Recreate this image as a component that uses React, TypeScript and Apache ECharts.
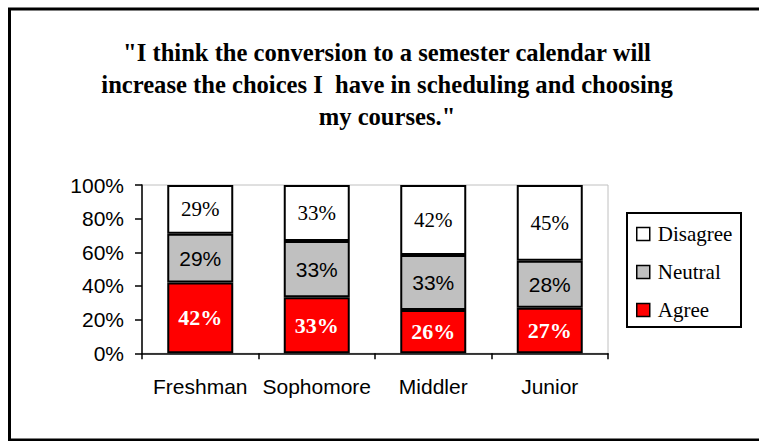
import React, { useEffect, useRef } from "react";
import * as echarts from "echarts";

const categories = ["Freshman", "Sophomore", "Middler", "Junior"];
const agree = [42, 33, 26, 27];
const neutral = [29, 33, 33, 28];
const disagree = [29, 33, 42, 45];
const titleText =
  '"I think the conversion to a semester calendar will\nincrease the choices I  have in scheduling and choosing\nmy courses."';

const SERIF = "'Liberation Serif', 'Times New Roman', serif";
const SANS = "'Liberation Sans', Arial, sans-serif";

export default function App() {
  const ref = useRef<HTMLDivElement>(null);
  useEffect(() => {
    if (!ref.current) return;
    const chart = echarts.init(ref.current, undefined, { renderer: "svg" });
    const totals = categories.map((_, i) => agree[i] + neutral[i] + disagree[i]);
    const frac = (arr: number[]) => arr.map((v, i) => v / totals[i]);
    const border = { borderColor: "#000", borderWidth: 2 };
    chart.setOption({
      animation: false,
      backgroundColor: "#fff",
      title: {
        text: titleText,
        left: 387,
        top: 37,
        padding: 0,
        textAlign: "center",
        textStyle: {
          fontFamily: SERIF,
          fontSize: 24.6,
          fontWeight: "bold",
          color: "#000",
          lineHeight: 31.7,
        },
      },
      graphic: [
        {
          type: "rect",
          shape: { x: 9.5, y: 9, width: 800, height: 431 },
          style: { fill: "none", stroke: "#000", lineWidth: 3 },
          silent: true,
        },
        {
          type: "rect",
          shape: { x: 627, y: 213, width: 114, height: 114 },
          style: { fill: "none", stroke: "#000", lineWidth: 2 },
          silent: true,
        },
      ],
      legend: {
        orient: "vertical",
        left: 636,
        top: 223.5,
        padding: 0,
        itemGap: 17,
        itemWidth: 13,
        itemHeight: 13,
        icon: "rect",
        data: ["Disagree", "Neutral", "Agree"],
        itemStyle: { borderColor: "#000", borderWidth: 1.5 },
        textStyle: {
          fontFamily: SERIF,
          fontSize: 21,
          lineHeight: 21,
          color: "#000",
          padding: [0, 0, 0, 3],
        },
      },
      grid: {
        left: 142,
        top: 185,
        right: 151,
        bottom: 87.7,
        show: true,
        borderColor: "#c0c0c0",
        borderWidth: 1,
        backgroundColor: "transparent",
      },
      xAxis: {
        type: "category",
        data: categories,
        axisLine: { show: true, lineStyle: { color: "#000", width: 1.5 } },
        axisTick: { show: true, length: 6, lineStyle: { color: "#000", width: 1.5 } },
        axisLabel: { interval: 0, fontFamily: SANS, fontSize: 21, color: "#000", margin: 23 },
        splitLine: { show: false },
      },
      yAxis: {
        type: "value",
        min: 0,
        max: 1,
        interval: 0.2,
        axisLine: { show: true, lineStyle: { color: "#000", width: 1.5 } },
        axisTick: { show: true, length: 7, lineStyle: { color: "#000", width: 1.5 } },
        axisLabel: {
          fontFamily: SANS,
          fontSize: 21,
          color: "#000",
          margin: 18,
          formatter: (v: number) => `${Math.round(v * 100)}%`,
        },
        splitLine: { show: false },
      },
      series: [
        {
          name: "Agree",
          type: "bar",
          stack: "all",
          barWidth: 66,
          data: frac(agree),
          itemStyle: { color: "#ff0000", ...border },
          label: {
            show: true,
            position: "inside",
            formatter: (p: any) => `${agree[p.dataIndex]}%`,
            fontFamily: SERIF,
            fontSize: 22,
            fontWeight: "bold",
            color: "#fff",
          },
        },
        {
          name: "Neutral",
          type: "bar",
          stack: "all",
          barWidth: 66,
          data: frac(neutral),
          itemStyle: { color: "#c0c0c0", ...border },
          label: {
            show: true,
            position: "inside",
            formatter: (p: any) => `${neutral[p.dataIndex]}%`,
            fontFamily: SANS,
            fontSize: 21,
            color: "#000",
          },
        },
        {
          name: "Disagree",
          type: "bar",
          stack: "all",
          barWidth: 66,
          data: frac(disagree),
          itemStyle: { color: "#ffffff", ...border },
          label: {
            show: true,
            position: "inside",
            formatter: (p: any) => `${disagree[p.dataIndex]}%`,
            fontFamily: SERIF,
            fontSize: 21,
            color: "#000",
          },
        },
      ],
    });
    return () => chart.dispose();
  }, []);
  return (
    <div
      ref={ref}
      style={{ position: "absolute", left: 0, top: 0, width: 759, height: 441 }}
    />
  );
}
